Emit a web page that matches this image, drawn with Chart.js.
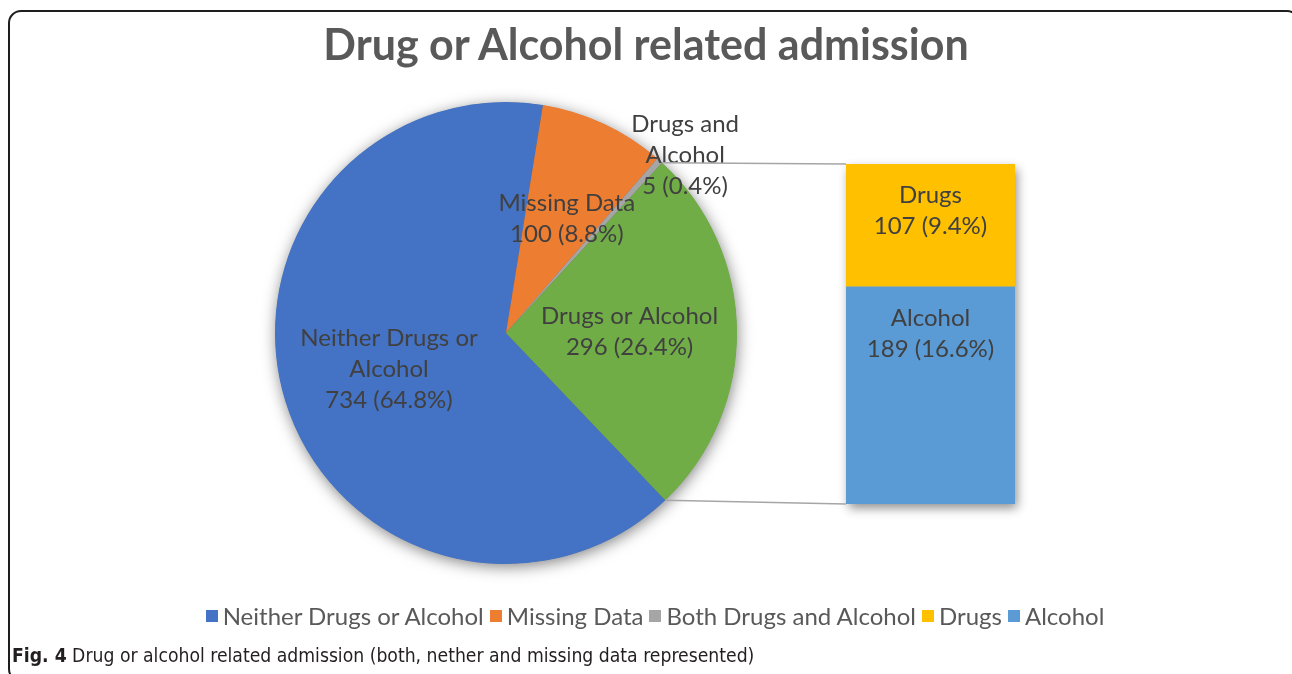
<!DOCTYPE html>
<html>
<head>
<meta charset="utf-8">
<script src="https://cdn.jsdelivr.net/npm/chart.js@4.4.1/dist/chart.umd.min.js"></script>
<style>
html,body{margin:0;padding:0;background:#fff;}
#wrap{position:relative;width:1292px;height:674px;overflow:hidden;font-family:Lato,'Open Sans',sans-serif;}
#frame{position:absolute;left:8px;top:10px;width:1292px;height:672px;border:2px solid #1e1e1e;border-radius:13px;box-sizing:border-box;}
canvas{position:absolute;left:0;top:0;}
#title{position:absolute;left:0;width:1292px;top:22px;text-align:center;font-weight:700;font-size:43px;line-height:1;color:#595959;white-space:nowrap;}
#legend{position:absolute;left:9px;width:1292px;top:604px;display:flex;justify-content:center;align-items:center;font-size:24px;line-height:1;color:#595959;white-space:nowrap;}
#legend .item{display:flex;align-items:center;margin:0 3px;}
#legend .sw{width:12px;height:12px;margin-right:5px;}
#caption{position:absolute;left:12px;top:646px;font-family:'Liberation Sans Narrow','DejaVu Sans Condensed',sans-serif;font-size:19.2px;line-height:1;color:#231f20;white-space:nowrap;}
</style>
</head>
<body>
<div id="wrap">
  <div id="frame"></div>
  <canvas id="pie" width="1292" height="674"></canvas>
  <canvas id="bar" width="1292" height="674"></canvas>
  <div id="title"></div>
  <div id="legend"></div>
  <div id="caption"><b>Fig. 4</b> Drug or alcohol related admission (both, nether and missing data represented)</div>
</div>
<script>
// ---------- data ----------
const chartTitle = 'Drug or Alcohol related admission';

const pieLabels = ['Neither Drugs or Alcohol', 'Missing Data', 'Both Drugs and Alcohol', 'Drugs or Alcohol'];
const pieValues = [734, 100, 5, 296];
const piePercents = ['64.8%', '8.8%', '0.4%', '26.4%'];
const pieLabelLines = [['Neither Drugs or', 'Alcohol'], ['Missing Data'], ['Drugs and', 'Alcohol'], ['Drugs or Alcohol']];
const pieColors = ['#4472C4', '#ED7D31', '#A5A5A5', '#70AD47'];

const barLabels = ['Drugs', 'Alcohol'];          // top to bottom
const barValues = [107, 189];
const barPercents = ['9.4%', '16.6%'];
const barColors = ['#FFC000', '#5B9BD5'];

const legendLabels = ['Neither Drugs or Alcohol', 'Missing Data', 'Both Drugs and Alcohol', 'Drugs', 'Alcohol'];
const legendColors = ['#4472C4', '#ED7D31', '#A5A5A5', '#FFC000', '#5B9BD5'];

// ---------- html text ----------
document.getElementById('title').textContent = chartTitle;
const lg = document.getElementById('legend');
legendLabels.forEach((l, i) => {
  const it = document.createElement('div'); it.className = 'item';
  const sw = document.createElement('div'); sw.className = 'sw'; sw.style.background = legendColors[i];
  const tx = document.createElement('span'); tx.textContent = l;
  it.appendChild(sw); it.appendChild(tx); lg.appendChild(it);
});

const W = 1292, H = 674;
const LABEL_FONT = '24px Lato, "Open Sans", sans-serif';
const LABEL_COLOR = '#404040';
const LINE_H = 31;

// ---------- pie plugins ----------
const pieShadow = {
  id: 'pieShadow',
  beforeDatasetsDraw(chart) {
    const a = chart.getDatasetMeta(0).data[0];
    if (!a) return;
    const p = a.getProps(['x', 'y', 'outerRadius'], true);
    const ctx = chart.ctx;
    ctx.save();
    ctx.shadowColor = 'rgba(0,0,0,0.5)';
    ctx.shadowBlur = 15;
    ctx.shadowOffsetX = 1;
    ctx.shadowOffsetY = 3;
    ctx.fillStyle = '#6a6a6a';
    ctx.beginPath();
    ctx.arc(p.x, p.y, p.outerRadius - 0.5, 0, Math.PI * 2);
    ctx.fill();
    ctx.restore();
  }
};

const pieText = {
  id: 'pieText',
  afterDatasetsDraw(chart, args, opts) {
    const ctx = chart.ctx;
    const arcs = chart.getDatasetMeta(0).data;
    ctx.save();
    ctx.font = LABEL_FONT;
    ctx.fillStyle = LABEL_COLOR;
    ctx.textAlign = 'center';
    ctx.textBaseline = 'middle';
    arcs.forEach((arc, i) => {
      const a = arc.getProps(['x', 'y', 'startAngle', 'endAngle', 'outerRadius'], true);
      const pl = opts.place[i];
      const mid = (a.startAngle + a.endAngle) / 2;
      const cx = a.x + Math.cos(mid) * a.outerRadius * pl.r + (pl.dx || 0);
      const cy = a.y + Math.sin(mid) * a.outerRadius * pl.r + (pl.dy || 0);
      const lines = pieLabelLines[i].concat([pieValues[i] + ' (' + piePercents[i] + ')']);
      const top = cy - (lines.length - 1) * LINE_H / 2;
      lines.forEach((t, k) => ctx.fillText(t, cx, top + k * LINE_H));
    });
    ctx.restore();
  }
};

const pieChart = new Chart(document.getElementById('pie'), {
  type: 'pie',
  data: {
    labels: pieLabels,
    datasets: [{ data: pieValues, backgroundColor: pieColors, borderWidth: 0 }]
  },
  options: {
    responsive: false,
    animation: false,
    events: [],
    rotation: 136.4,
    layout: { padding: { left: 275, right: W - 737, top: 102, bottom: H - 564 } },
    plugins: {
      legend: { display: false },
      tooltip: { enabled: false },
      pieText: {
        place: [
          { r: 0.53 },
          { r: 0.56, dx: 6, dy: 3 },
          { r: 1.1, dx: 10, dy: 12 },
          { r: 0.535 }
        ]
      }
    }
  },
  plugins: [pieShadow, pieText]
});

// ---------- bar plugins ----------
function barGeom(chart) {
  const n = chart.data.datasets.length;
  const topEl = chart.getDatasetMeta(n - 1).data[0];
  const botEl = chart.getDatasetMeta(0).data[0];
  const t = topEl.getProps(['x', 'y', 'width'], true);
  const b = botEl.getProps(['base'], true);
  return { left: t.x - t.width / 2, right: t.x + t.width / 2, top: t.y, bottom: b.base, cx: t.x };
}

const barShadow = {
  id: 'barShadow',
  beforeDatasetsDraw(chart) {
    const g = barGeom(chart);
    const ctx = chart.ctx;
    ctx.save();
    ctx.shadowColor = 'rgba(0,0,0,0.45)';
    ctx.shadowBlur = 10;
    ctx.shadowOffsetX = 2;
    ctx.shadowOffsetY = 4;
    ctx.fillStyle = '#6a6a6a';
    ctx.fillRect(g.left + 0.5, g.top + 0.5, g.right - g.left - 1, g.bottom - g.top - 1);
    ctx.restore();
  }
};

const connectors = {
  id: 'connectors',
  beforeDatasetsDraw(chart) {
    const idx = pieLabels.indexOf('Drugs or Alcohol');
    const arc = pieChart.getDatasetMeta(0).data[idx];
    const a = arc.getProps(['x', 'y', 'startAngle', 'endAngle', 'outerRadius'], true);
    const g = barGeom(chart);
    const ctx = chart.ctx;
    ctx.save();
    ctx.strokeStyle = '#A6A6A6';
    ctx.lineWidth = 1.6;
    ctx.beginPath();
    ctx.moveTo(a.x + Math.cos(a.startAngle) * a.outerRadius, a.y + Math.sin(a.startAngle) * a.outerRadius);
    ctx.lineTo(g.left, g.top);
    ctx.moveTo(a.x + Math.cos(a.endAngle) * a.outerRadius, a.y + Math.sin(a.endAngle) * a.outerRadius);
    ctx.lineTo(g.left, g.bottom);
    ctx.stroke();
    ctx.restore();
  }
};

const barText = {
  id: 'barText',
  afterDatasetsDraw(chart) {
    const ctx = chart.ctx;
    ctx.save();
    ctx.font = LABEL_FONT;
    ctx.fillStyle = LABEL_COLOR;
    ctx.textAlign = 'center';
    ctx.textBaseline = 'middle';
    chart.data.datasets.forEach((ds, di) => {
      const el = chart.getDatasetMeta(di).data[0];
      const p = el.getProps(['x', 'y', 'base'], true);
      const segTop = Math.min(p.y, p.base);
      const lines = [ds.label, ds.data[0] + ' (' + ds.pct + ')'];
      lines.forEach((t, k) => ctx.fillText(t, p.x, segTop + LINE_H + k * LINE_H));
    });
    ctx.restore();
  }
};

const barOrder = barLabels.map((_, i) => i).reverse(); // bottom segment first
const barTotal = barValues.reduce((s, v) => s + v, 0);

new Chart(document.getElementById('bar'), {
  type: 'bar',
  data: {
    labels: ['Drugs or Alcohol'],
    datasets: barOrder.map(i => ({
      label: barLabels[i],
      data: [barValues[i]],
      pct: barPercents[i],
      backgroundColor: barColors[i],
      borderWidth: 0,
      barPercentage: 1,
      categoryPercentage: 1
    }))
  },
  options: {
    responsive: false,
    animation: false,
    events: [],
    layout: { padding: { left: 846, right: W - 1015, top: 164, bottom: H - 504 } },
    scales: {
      x: { display: false, stacked: true },
      y: { display: false, stacked: true, min: 0, max: barTotal }
    },
    plugins: { legend: { display: false }, tooltip: { enabled: false } }
  },
  plugins: [barShadow, connectors, barText]
});
</script>
</body>
</html>
